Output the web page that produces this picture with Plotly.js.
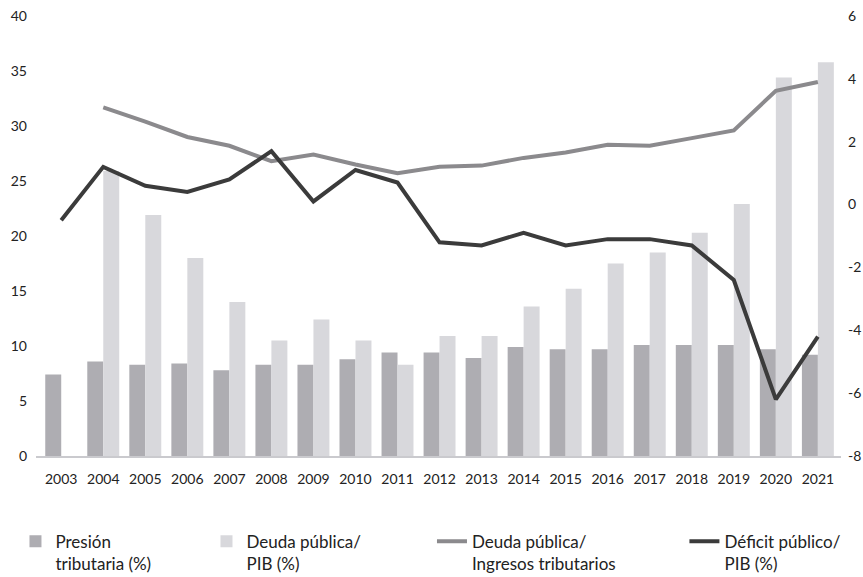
<!DOCTYPE html>
<html>
<head>
<meta charset="utf-8">
<script src="https://cdn.plot.ly/plotly-3.0.1.min.js"></script>
<style>html,body{margin:0;padding:0;background:#fff;}#chart{width:863px;height:577px;}</style>
</head>
<body>
<div id="chart"></div>
<script>
const years = ['2003','2004','2005','2006','2007','2008','2009','2010','2011','2012','2013','2014','2015','2016','2017','2018','2019','2020','2021'];
const presionTributaria = [7.4, 8.6, 8.3, 8.4, 7.8, 8.3, 8.3, 8.8, 9.4, 9.4, 8.9, 9.9, 9.7, 9.7, 10.1, 10.1, 10.1, 9.7, 9.2];
const deudaPib = [null, 25.9, 21.9, 18.0, 14.0, 10.5, 12.4, 10.5, 8.3, 10.9, 10.9, 13.6, 15.2, 17.5, 18.5, 20.3, 22.9, 34.4, 35.8];
const deudaIngresos = [null, 31.7, 30.4, 29.0, 28.2, 26.8, 27.4, 26.5, 25.7, 26.3, 26.4, 27.1, 27.6, 28.3, 28.2, 28.9, 29.6, 33.2, 34.0];
const deficitPib = [-0.5, 1.2, 0.6, 0.4, 0.8, 1.7, 0.1, 1.1, 0.7, -1.2, -1.3, -0.9, -1.3, -1.1, -1.1, -1.3, -2.4, -6.2, -4.2];
const leftTicks = [0, 5, 10, 15, 20, 25, 30, 35, 40];
const rightTicks = [-8, -6, -4, -2, 0, 2, 4, 6];
const rightTickText = ['-8', '-6', '-4', '-2', '0', '2', '4', '6'];

const FONT = 'Lato, "Open Sans", sans-serif';
const traces = [
  {type:'bar', x:years, y:presionTributaria, name:'Presión<br>tributaria (%)', marker:{color:'#aeadb2'}, legend:'legend', hoverinfo:'x+y'},
  {type:'bar', x:years, y:deudaPib, name:'Deuda pública/<br>PIB (%)', marker:{color:'#d8d8dc'}, legend:'legend2', hoverinfo:'x+y'},
  {type:'scatter', mode:'lines', x:years, y:deudaIngresos, name:'Deuda pública/<br>Ingresos tributarios', line:{color:'#8b8a8d', width:4}, legend:'legend3', connectgaps:false},
  {type:'scatter', mode:'lines', x:years, y:deficitPib, name:'Déficit público/<br>PIB (%)', line:{color:'#3b3b3b', width:4}, yaxis:'y2', legend:'legend4'}
];

const legBase = {orientation:'h', yanchor:'top', xanchor:'left', y:-0.154, valign:'top', font:{family:FONT, size:17, color:'#222'}, bgcolor:'rgba(0,0,0,0)', borderwidth:0};
const layout = {
  width:863, height:577,
  margin:{l:36, r:22, t:16, b:121, autoexpand:false},
  paper_bgcolor:'#fff', plot_bgcolor:'#fff',
  font:{family:FONT, size:14, color:'#222'},
  barmode:'group', bargap:0.24, bargroupgap:0,
  showlegend:true,
  legend: Object.assign({}, legBase, {x:-0.0255}),
  legend2: Object.assign({}, legBase, {x:0.2118}),
  legend3: Object.assign({}, legBase, {x:0.4919}),
  legend4: Object.assign({}, legBase, {x:0.8055}),
  xaxis:{type:'category', range:[-0.6, 18.55], showgrid:false, zeroline:false, showline:true, linecolor:'#cacace', linewidth:2, ticks:'', tickfont:{family:FONT, size:14, color:'#222'}, ticklabelstandoff:9, fixedrange:true},
  yaxis:{range:[0,40], tickvals:leftTicks, showgrid:false, zeroline:false, showline:false, ticks:'', tickfont:{family:FONT, size:14, color:'#222'}, ticklabelstandoff:8, fixedrange:true},
  yaxis2:{range:[-8,6], tickvals:rightTicks, ticktext:rightTickText, overlaying:'y', side:'right', showgrid:false, zeroline:false, showline:false, ticks:'', tickfont:{family:FONT, size:14, color:'#222'}, ticklabelstandoff:6, fixedrange:true}
};
Plotly.newPlot('chart', traces, layout, {displayModeBar:false, staticPlot:true});
</script>
</body>
</html>
